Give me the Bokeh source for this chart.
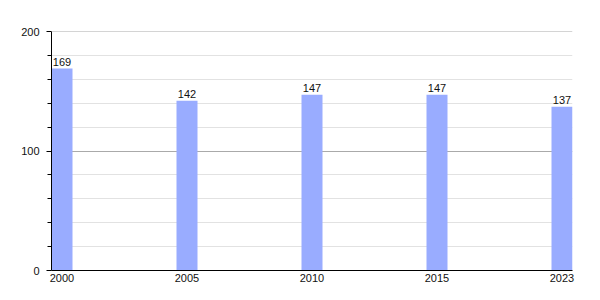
from bokeh.plotting import figure
from bokeh.models import Range1d, FixedTicker, ColumnDataSource, LabelSet, Span
from bokeh.core.properties import value
from bokeh.embed import file_html
from bokeh.resources import INLINE

years = ["2000", "2005", "2010", "2015", "2023"]
values = [169, 142, 147, 147, 137]
y_ticks = [0, 100, 200]
y_minor = [20, 40, 60, 80, 120, 140, 160, 180]

xs = list(range(len(years)))
src = ColumnDataSource(dict(x=xs, top=values, lab=[str(v) for v in values]))

p = figure(width=600, height=300, output_backend="svg", toolbar_location=None,
           x_range=Range1d(-0.084, len(years) - 1 + 0.084), y_range=Range1d(0, 200),
           min_border_left=51, min_border_right=28, min_border_top=31, min_border_bottom=30)
p.outline_line_color = None
p.background_fill_color = "white"
p.border_fill_color = "white"

p.add_layout(Span(location=200, dimension="width", line_color="#aaaaaa", line_width=1))

p.vbar(x="x", top="top", width=0.168, bottom=0, source=src,
       fill_color="#99acff", line_color=None)

labels = LabelSet(x="x", y="top", text="lab", source=src, text_align="center",
                  text_baseline="bottom", y_offset=3, text_font=value("Liberation Sans"),
                  text_font_size="11px", text_color="#111111")
p.add_layout(labels)

p.xgrid.visible = False
p.yaxis.ticker = FixedTicker(ticks=y_ticks, minor_ticks=y_minor)
p.ygrid.ticker = FixedTicker(ticks=y_ticks, minor_ticks=y_minor)
p.ygrid.grid_line_color = "#aaaaaa"
p.ygrid.minor_grid_line_color = "#e2e2e2"

p.yaxis.axis_line_color = "black"
p.yaxis.major_tick_in = 0
p.yaxis.major_tick_out = 5
p.yaxis.minor_tick_in = 0
p.yaxis.minor_tick_out = 4
p.yaxis.major_tick_line_color = "black"
p.yaxis.minor_tick_line_color = "black"
p.yaxis.major_label_text_font = "Liberation Sans"
p.yaxis.major_label_text_font_size = "11px"
p.yaxis.major_label_text_color = "#111111"
p.yaxis.major_label_standoff = 7

p.xaxis.ticker = FixedTicker(ticks=xs)
p.xaxis.major_label_overrides = {i: y for i, y in enumerate(years)}
p.xaxis.axis_line_color = "black"
p.xaxis.major_tick_line_color = None
p.xaxis.minor_tick_line_color = None
p.xaxis.major_tick_out = 0
p.xaxis.major_label_standoff = 3
p.xaxis.major_label_text_font = "Liberation Sans"
p.xaxis.major_label_text_font_size = "11px"
p.xaxis.major_label_text_color = "#111111"

open("out.html", "w").write(file_html(p, INLINE))
